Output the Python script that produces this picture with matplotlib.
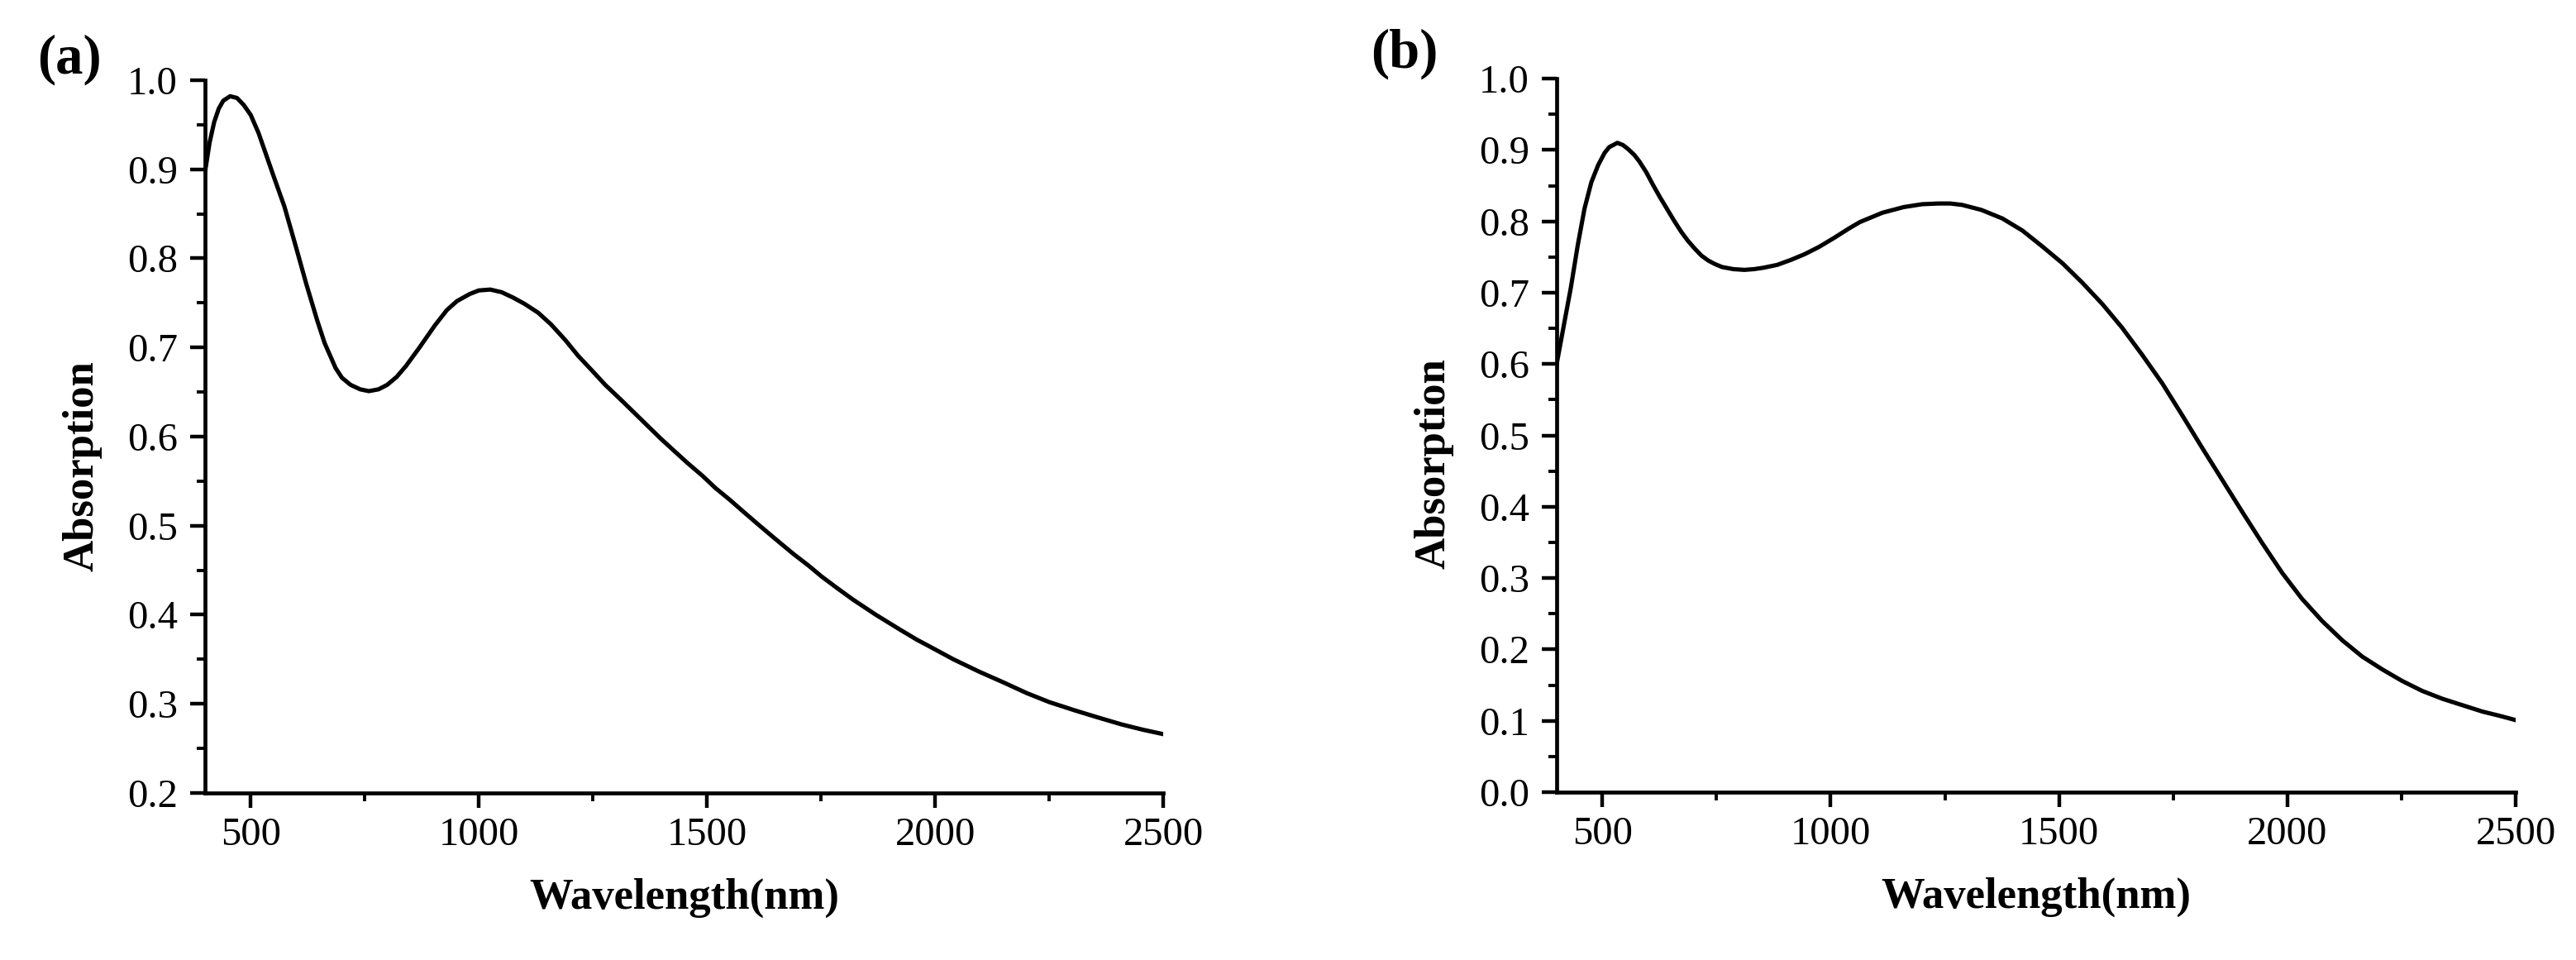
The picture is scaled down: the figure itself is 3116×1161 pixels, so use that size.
import matplotlib
matplotlib.use("Agg")
import matplotlib.pyplot as plt
from matplotlib.ticker import MultipleLocator

plt.rcParams['font.family'] = ['Liberation Serif', 'DejaVu Serif']

# panel (a)
wl_a = [400, 410, 420, 430, 440, 455, 470, 485, 500, 517, 530, 549, 574, 598, 622, 646, 662,
        686, 700, 719, 740, 759, 780, 799, 820, 840, 870, 904, 930, 952, 980, 1000, 1025,
        1050, 1075, 1100, 1130, 1158, 1190, 1217, 1250, 1277, 1310, 1338, 1370, 1398,
        1430, 1458, 1490, 1519, 1550, 1579, 1613, 1650, 1690, 1723, 1751, 1785, 1820,
        1870, 1924, 1960, 1993, 2040, 2097, 2150, 2201, 2250, 2304, 2355, 2408, 2455, 2500]
abs_a = [0.897, 0.930, 0.953, 0.968, 0.977, 0.982, 0.980, 0.972, 0.961, 0.941, 0.922,
         0.894, 0.858, 0.815, 0.771, 0.730, 0.705, 0.677, 0.666, 0.658, 0.653, 0.651,
         0.653, 0.658, 0.667, 0.679, 0.700, 0.725, 0.742, 0.752, 0.760, 0.764, 0.765,
         0.762, 0.756, 0.749, 0.739, 0.726, 0.708, 0.691, 0.673, 0.658, 0.642, 0.628,
         0.612, 0.598, 0.583, 0.570, 0.556, 0.542, 0.529, 0.516, 0.501, 0.485, 0.468,
         0.455, 0.443, 0.430, 0.417, 0.400, 0.383, 0.372, 0.363, 0.350, 0.336, 0.324,
         0.312, 0.302, 0.293, 0.285, 0.277, 0.271, 0.266]

# panel (b)
wl_b = [400, 415, 431, 446, 461, 476, 491, 505, 515, 533, 545, 557, 570, 581, 596, 611,
        626, 642, 657, 672, 687, 702, 717, 732, 747, 762, 787, 811, 832, 853, 883, 913,
        943, 974, 1008, 1040, 1064, 1113, 1160, 1200, 1236, 1262, 1288, 1330, 1376,
        1420, 1463, 1508, 1551, 1595, 1638, 1682, 1726, 1770, 1813, 1857, 1901, 1945,
        1989, 2032, 2076, 2120, 2164, 2208, 2251, 2295, 2339, 2383, 2427, 2465, 2500]
abs_b = [0.600, 0.652, 0.707, 0.766, 0.818, 0.855, 0.879, 0.896, 0.904, 0.910, 0.907,
         0.901, 0.893, 0.884, 0.869, 0.851, 0.834, 0.817, 0.801, 0.786, 0.773, 0.762,
         0.752, 0.745, 0.740, 0.736, 0.733, 0.732, 0.733, 0.735, 0.739, 0.746, 0.754,
         0.764, 0.777, 0.790, 0.799, 0.812, 0.820, 0.824, 0.825, 0.825, 0.823, 0.816,
         0.804, 0.787, 0.765, 0.741, 0.714, 0.684, 0.651, 0.613, 0.573, 0.528, 0.483,
         0.438, 0.393, 0.349, 0.307, 0.271, 0.240, 0.213, 0.190, 0.172, 0.156, 0.142,
         0.131, 0.122, 0.113, 0.107, 0.101]

fig = plt.figure(figsize=(31.16, 11.61), dpi=100)
ax_a = fig.add_axes([0.0796, 0.1740, 0.372, 0.7425])
ax_b = fig.add_axes([0.6043, 0.1748, 0.3723, 0.7433])


def style(ax, ymin, ylabel_y):
    ax.set_xlim(400, 2500)
    ax.set_ylim(ymin, 1.0)
    ax.xaxis.set_major_locator(MultipleLocator(500))
    ax.xaxis.set_minor_locator(MultipleLocator(250))
    ax.yaxis.set_major_locator(MultipleLocator(0.1))
    ax.yaxis.set_minor_locator(MultipleLocator(0.05))
    ax.yaxis.set_major_formatter(lambda v, p: f"{v:.1f}")
    for s in ['top', 'right']:
        ax.spines[s].set_visible(False)
    for s in ['left', 'bottom']:
        ax.spines[s].set_linewidth(3.4)
    ax.tick_params(which='major', direction='out', length=13, width=3.2, labelsize=35)
    ax.tick_params(which='minor', direction='out', length=7.5, width=2.8)
    ax.tick_params(axis='y', which='major', pad=11)
    ax.tick_params(axis='x', which='major', pad=8)
    ax.set_xlabel('Wavelength(nm)', fontsize=38, fontweight='bold', va='center')
    ax.set_ylabel('Absorption', fontsize=38, fontweight='bold', va='center')
    ax.xaxis.set_label_coords(0.5, -0.147)
    ax.yaxis.set_label_coords(-0.128, ylabel_y)


ax_a.plot(wl_a, abs_a, color='black', lw=3.7, solid_joinstyle='round')
style(ax_a, 0.2, 0.459)
ax_b.plot(wl_b, abs_b, color='black', lw=3.7, solid_joinstyle='round')
style(ax_b, 0.0, 0.46)

fig.text(0.0144, 0.938, '(a)', fontsize=48, fontweight='bold', ha='left', va='center')
fig.text(0.532, 0.944, '(b)', fontsize=48, fontweight='bold', ha='left', va='center')

fig.savefig('out.png', dpi=100)
